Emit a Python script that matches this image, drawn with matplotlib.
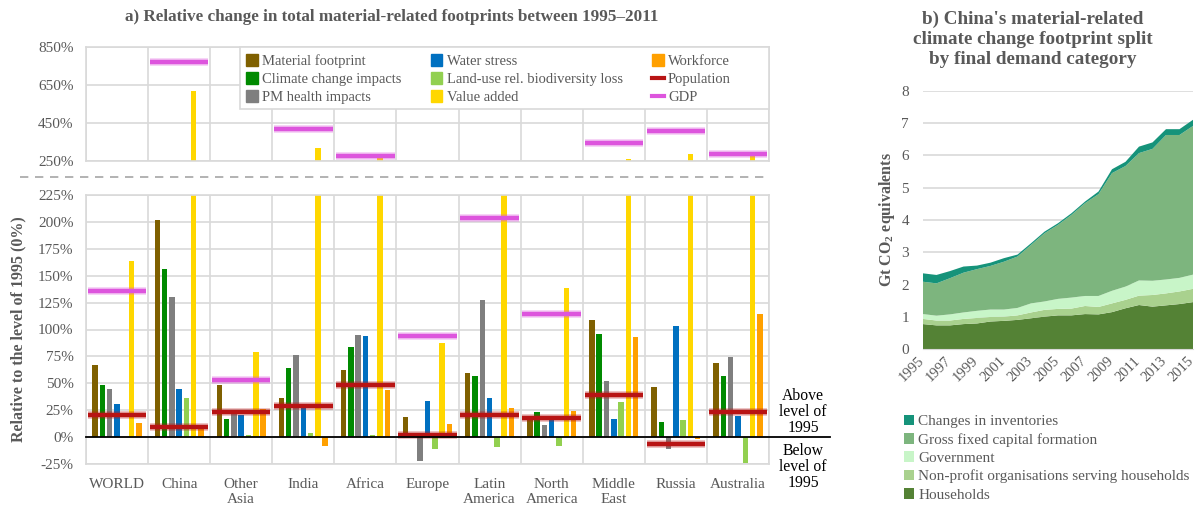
import numpy as np
import matplotlib.pyplot as plt
import matplotlib.transforms as mtransforms
from matplotlib.patches import Patch, Rectangle
from matplotlib.lines import Line2D

# Serif look, with bold subscripts handled through mathtext
plt.rcParams['font.family'] = 'Liberation Serif'
plt.rcParams['mathtext.fontset'] = 'custom'
plt.rcParams['mathtext.rm'] = 'Liberation Serif'
plt.rcParams['mathtext.bf'] = 'Liberation Serif:bold'

TEXT = '#595959'
GRID = '#D9D9D9'

# ---- panel a) data: change 1995-2011 in % ----
regions = ['WORLD', 'China', 'Other\nAsia', 'India', 'Africa', 'Europe',
           'Latin\nAmerica', 'North\nAmerica', 'Middle\nEast', 'Russia', 'Australia']
material = [67, 202, 48, 36, 62, 19, 60, 19, 109, 47, 69]
climate = [48, 156, 17, 64, 84, 1, 57, 23, 96, 14, 57]
pm_health = [45, 130, 22, 76, 95, -22, 127, 11, 52, -11, 74]
water = [31, 45, 21, 31, 94, 34, 36, 20, 17, 103, 20]
biodiversity = [0, 36, 1.5, 4, 1.5, -11, -9, -8, 33, 16, -24]
value_added = [164, 618, 79, 317, 273, 87, 235, 139, 260, 285, 278]
workforce = [13, 8, 26, -8, 44, 12, 27, 24, 93, -2, 114]
population = [21, 9, 23, 28.5, 48, 2, 21, 18, 39, -6, 23]
gdp = [136, 772, 53, 420, 276, 94, 204, 114, 343, 408, 285]

bar_series = [
    ('Material footprint', material, '#7F6000'),
    ('Climate change impacts', climate, '#008A00'),
    ('PM health impacts', pm_health, '#7F7F7F'),
    ('Water stress', water, '#0070C0'),
    ('Land-use rel. biodiversity loss', biodiversity, '#92D050'),
    ('Value added', value_added, '#FFD700'),
    ('Workforce', workforce, '#FFA000'),
]
line_series = [
    ('Population', population, '#B81414'),
    ('GDP', gdp, '#DD55DD'),
]

# ---- panel b) data: China, Gt CO2-eq by final demand category ----
years = list(range(1995, 2016))
households = [0.78, 0.74, 0.74, 0.78, 0.80, 0.86, 0.88, 0.91, 0.96, 1.01, 1.05,
              1.05, 1.09, 1.08, 1.15, 1.27, 1.37, 1.32, 1.36, 1.40, 1.46]
npish = [0.16, 0.15, 0.15, 0.16, 0.17, 0.14, 0.13, 0.14, 0.18, 0.21, 0.20,
         0.21, 0.25, 0.23, 0.27, 0.26, 0.29, 0.36, 0.37, 0.39, 0.41]
government = [0.15, 0.15, 0.19, 0.20, 0.22, 0.23, 0.22, 0.23, 0.28, 0.26, 0.31,
              0.34, 0.31, 0.34, 0.39, 0.41, 0.47, 0.44, 0.43, 0.42, 0.44]
gfcf = [1.00, 1.00, 1.12, 1.23, 1.29, 1.35, 1.48, 1.59, 1.81, 2.11, 2.29,
        2.56, 2.87, 3.15, 3.64, 3.73, 3.94, 4.08, 4.47, 4.42, 4.60]
inventories = [0.26, 0.26, 0.22, 0.19, 0.11, 0.10, 0.11, 0.06, 0.05, 0.05, 0.05,
               0.05, 0.05, 0.08, 0.12, 0.13, 0.20, 0.20, 0.18, 0.18, 0.19]

area_labels = ['Households', 'Non-profit organisations serving households',
               'Government', 'Gross fixed capital formation', 'Changes in inventories']
area_colors = ['#548235', '#A9D18E', '#C8F5C8', '#7DB57E', '#16937A']

W, H = 1198, 507
fig = plt.figure(figsize=(W / 100, H / 100), dpi=100)


def box(x0, y0, x1, y1):
    # pixel box -> figure fraction rect
    return [x0 / W, 1 - y1 / H, (x1 - x0) / W, (y1 - y0) / H]


ax_top = fig.add_axes(box(86, 47, 769, 161))
ax_bot = fig.add_axes(box(86, 195, 769, 464))
ax_r = fig.add_axes(box(923, 90.7, 1193, 349.3))

x = np.arange(len(regions))
offsets = (np.arange(len(bar_series)) - 3) * 0.1175

# broken axis: same bars on both parts, each clipped by its own limits
for ax in (ax_top, ax_bot):
    for k, (name, vals, col) in enumerate(bar_series):
        ax.bar(x + offsets[k], vals, width=0.088, color=col, zorder=2)
    for name, vals, col in line_series:
        ax.hlines(vals, x - 0.47, x + 0.47, colors=col, lw=5.5, alpha=0.3, zorder=3)
        ax.hlines(vals, x - 0.47, x + 0.47, colors=col, lw=3.2, zorder=4)
    ax.set_xlim(-0.5, len(regions) - 0.5)
    ax.set_xticks(x)
    ax.set_xticks(np.arange(-0.5, len(regions)), minor=True)
    ax.grid(which='minor', axis='x', color=GRID, lw=1.2, zorder=0)
    ax.grid(which='major', axis='y', color=GRID, lw=1.2, zorder=0)
    ax.tick_params(which='both', length=0, labelsize=11, labelcolor=TEXT)
    ax.tick_params(axis='y', pad=9)
    for s in ax.spines.values():
        s.set_color(GRID)
        s.set_linewidth(1.2)

ax_top.set_ylim(250, 850)
ax_top.set_yticks([250, 450, 650, 850])
ax_top.set_yticklabels([f'{v}%' for v in [250, 450, 650, 850]])
ax_top.set_xticklabels([])

ax_bot.set_ylim(-25, 225)
bot_ticks = list(range(-25, 226, 25))
ax_bot.set_yticks(bot_ticks)
ax_bot.set_yticklabels([f'{v}%' for v in bot_ticks])
ax_bot.set_xticklabels(regions, linespacing=1.25)
ax_bot.tick_params(axis='x', pad=10)
ax_bot.axhline(0, xmin=0, xmax=(830 - 86) / 683, color='black', lw=1.3,
               clip_on=False, zorder=5)

# dashed break between the two parts
fig.add_artist(Line2D([20 / W, 770 / W], [1 - 177 / H, 1 - 177 / H],
                      color='#A6A6A6', lw=1.2, ls=(0, (5, 4))))

fig.text(392 / W, 1 - 17 / H,
         'a) Relative change in total material-related footprints between 1995\u20132011',
         ha='center', va='center', fontsize=12.3, fontweight='bold', color=TEXT)
fig.text(18 / W, 1 - 329 / H, 'Relative to the level of 1995 (0%)', rotation=90,
         ha='center', va='center', fontsize=11.5, fontweight='bold', color=TEXT)
fig.text(803 / W, 1 - 412 / H, 'Above\nlevel of\n1995', ha='center', va='center',
         fontsize=11.3, linespacing=1.02)
fig.text(803 / W, 1 - 467 / H, 'Below\nlevel of\n1995', ha='center', va='center',
         fontsize=11.3, linespacing=1.02)

# legend box spans the free band above the chart
fig.add_artist(Rectangle((240 / W, 1 - 109 / H), 529 / W, 62 / H,
                         transform=fig.transFigure, facecolor='white',
                         edgecolor=GRID, lw=1.2, zorder=1))
handles = [Patch(color=c, label=n) for n, v, c in bar_series]
handles += [Line2D([], [], color=c, lw=3, label=n) for n, v, c in line_series]
leg = fig.legend(handles=handles, ncol=3, loc='upper left',
                 bbox_to_anchor=(236 / W, 1 - 44 / H), frameon=False,
                 fontsize=10.5, handlelength=0.8, handleheight=0.8,
                 handletextpad=0.3, labelspacing=0.3, borderpad=0.2,
                 columnspacing=2.0)
leg.set_zorder(6)
for t in leg.get_texts():
    t.set_color(TEXT)

# ---- panel b) stacked areas ----
ax_r.stackplot(years, households, npish, government, gfcf, inventories,
               colors=area_colors, labels=area_labels, zorder=2)
ax_r.set_xlim(1995, 2015)
ax_r.set_ylim(0, 8)
ax_r.set_yticks(range(0, 9))
ax_r.set_xticks(range(1995, 2016, 2))
ax_r.grid(axis='y', color=GRID, lw=1.2, zorder=0)
ax_r.set_axisbelow(True)
for side in ('top', 'right', 'left'):
    ax_r.spines[side].set_visible(False)
ax_r.spines['bottom'].set_color(GRID)
ax_r.tick_params(length=0, labelsize=11, labelcolor=TEXT)
ax_r.tick_params(axis='x', labelsize=10.5)
ax_r.tick_params(axis='y', pad=10)
shift = mtransforms.ScaledTranslation(-4 / 72, 0, fig.dpi_scale_trans)
for lab in ax_r.get_xticklabels():
    lab.set_rotation(45)
    lab.set_ha('right')
    lab.set_rotation_mode('anchor')
    lab.set_transform(lab.get_transform() + shift)
ax_r.set_ylabel(r'Gt CO$_\mathbf{2}$ equivalents', fontsize=11.5,
                fontweight='bold', color=TEXT, labelpad=3)

fig.text(1033 / W, 1 - 39 / H,
         "b) China's material-related\nclimate change footprint split\nby final demand category",
         ha='center', va='center', fontsize=13.8, fontweight='bold', color=TEXT,
         linespacing=1.22)

h, l = ax_r.get_legend_handles_labels()
leg_r = fig.legend(h[::-1], l[::-1], loc='upper left',
                   bbox_to_anchor=(896 / W, 1 - 407 / H), frameon=False,
                   fontsize=11, handlelength=0.7, handleheight=0.7,
                   handletextpad=0.25, labelspacing=0.3, borderpad=0)
for t in leg_r.get_texts():
    t.set_color(TEXT)

fig.savefig('out.png', dpi=100)
